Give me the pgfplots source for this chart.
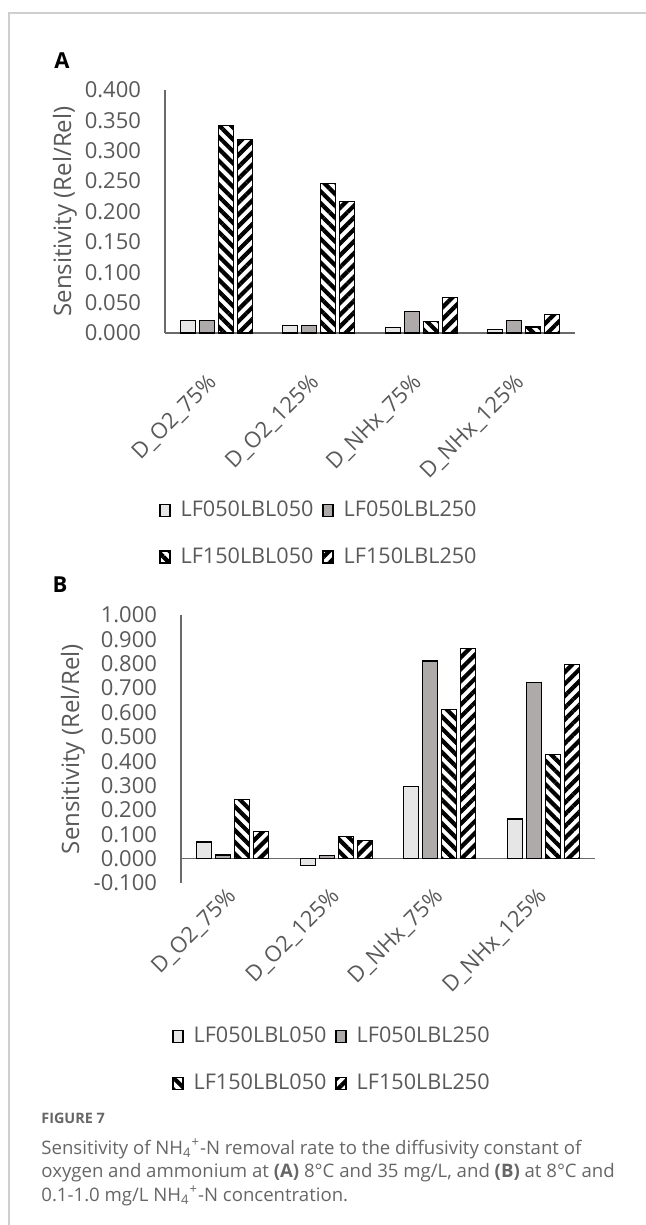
\documentclass[border=0pt]{standalone}
\usepackage{fontspec}
\setmainfont{Open Sans}
\usepackage{graphicx}
\usepackage{pgfplots}
\pgfplotsset{compat=1.18}
\usetikzlibrary{patterns.meta}
\definecolor{txt}{HTML}{595959}
\definecolor{axl}{HTML}{6A6A6A}
\definecolor{cA}{RGB}{231,230,230}
\definecolor{cB}{RGB}{174,170,170}
\definecolor{framec}{HTML}{CFCFCF}
\definecolor{capc}{HTML}{666666}
\newcommand{\rl}[1]{\rotatebox{45}{#1}}
\pgfplotsset{
  sA/.style={fill=cA, draw=black, line width=0.6pt},
  sB/.style={fill=cB, draw=black, line width=0.6pt},
  sC/.style={draw=black, line width=0.6pt, pattern={Lines[angle=-45,distance=4.2pt,line width=2.1pt]}, pattern color=black},
  sD/.style={draw=black, line width=0.6pt, pattern={Lines[angle=45,distance=4.2pt,line width=2.1pt]}, pattern color=black},
  common/.style={
    scale only axis,
    xmin=-0.5, xmax=3.5,
    xtick={0,1,2,3},
    xticklabels={\rl{D\_O2\_75\%}, \rl{D\_O2\_125\%}, \rl{D\_NHx\_75\%}, \rl{D\_NHx\_125\%}},
    ybar=2.1pt, bar width=7.4pt,
    every axis plot post/.append style={/pgfplots/legend image code/.code={\draw[##1] (0pt,-3pt) rectangle (5pt,3pt);}},
    axis y line*=left, axis x line*=bottom,
    axis line style={draw=axl, line width=0.7pt},
    major tick length=0pt,
    scaled y ticks=false,
    tick label style={font=\fontsize{11}{12}\selectfont, text=txt},
    /pgf/number format/fixed, /pgf/number format/fixed zerofill,
    /pgf/number format/precision=3, /pgf/number format/assume math mode=true,
    yticklabel style={xshift=-8.5pt},
    ylabel={Sensitivity (Rel/Rel)},
    ylabel style={font=\fontsize{12}{14}\selectfont, text=txt, anchor=center},
    legend columns=2,
    legend style={draw=none, fill=none, inner sep=0pt, row sep=14pt,
      font=\fontsize{10.8}{12}\selectfont, text=txt, anchor=north west,
      nodes={inner sep=0pt},
      /tikz/every odd column/.append style={column sep=5pt},
      /tikz/every even column/.append style={column sep=4.5pt}},
    legend cell align=left,
  },
}
\begin{document}
\begin{tikzpicture}
\path[use as bounding box] (0pt,0pt) rectangle (323pt,-612.5pt);
\draw[framec, line width=0.8pt] (4.5pt,-612.5pt) -- (4.5pt,-6.5pt) -- (323pt,-6.5pt);
\node[font=\bfseries\fontsize{11}{12}\selectfont] at (31pt,-30.5pt) {A};
\node[font=\bfseries\fontsize{11}{12}\selectfont] at (30pt,-292.5pt) {B};

% Panel A
\begin{axis}[common,
  at={(82.5pt,-166.5pt)}, anchor=south west,
  width=205pt, height=121.5pt,
  ymin=0, ymax=0.4, ytick={0,0.05,0.1,0.15,0.2,0.25,0.3,0.35,0.4},
  ylabel style={at={(axis description cs:-0.244,0.5)}},
  xticklabel style={inner sep=0pt, anchor=north east, xshift=2pt, yshift=-19.5pt},
  legend style={at={(axis description cs:-0.0146,-0.69)}},
]
\addplot[sA] coordinates {(0,0.021) (1,0.012) (2,0.009) (3,0.0055)};
\addplot[sB] coordinates {(0,0.021) (1,0.012) (2,0.035) (3,0.021)};
\addplot[sC] coordinates {(0,0.342) (1,0.246) (2,0.019) (3,0.010)};
\addplot[sD] coordinates {(0,0.318) (1,0.216) (2,0.058) (3,0.031)};
\legend{LF050LBL050, LF050LBL250, LF150LBL050, LF150LBL250}
\end{axis}

% Panel B
\begin{axis}[common,
  at={(90.5pt,-441.5pt)}, anchor=south west,
  width=207pt, height=134pt,
  ymin=-0.1, ymax=1.0, ytick={-0.1,0,0.1,0.2,0.3,0.4,0.5,0.6,0.7,0.8,0.9,1.0},
  x axis line style={draw=none},
  ylabel style={at={(axis description cs:-0.261,0.5)}},
  xticklabel style={inner sep=0pt, anchor=north east, xshift=3.5pt, yshift=-1.5pt},
  legend style={at={(axis description cs:-0.0217,-0.537)}},
]
\draw[axl, line width=0.7pt] (axis cs:-0.5,0) -- (axis cs:3.5,0);
\addplot[sA] coordinates {(0,0.068) (1,-0.028) (2,0.296) (3,0.163)};
\addplot[sB] coordinates {(0,0.015) (1,0.012) (2,0.811) (3,0.723)};
\addplot[sC] coordinates {(0,0.243) (1,0.090) (2,0.613) (3,0.429)};
\addplot[sD] coordinates {(0,0.111) (1,0.075) (2,0.861) (3,0.796)};
\legend{LF050LBL050, LF050LBL250, LF150LBL050, LF150LBL250}
\end{axis}

% Caption
\node[anchor=base west, inner sep=0pt, text=capc, font=\bfseries\fontsize{7.2}{9}\selectfont] at (20.5pt,-561.5pt) {FIGURE 7};
\node[anchor=base west, inner sep=0pt, text=capc, font=\fontsize{9.3}{11}\selectfont] at (20.5pt,-577pt)
 {Sensitivity of NH\textsubscript{4}\textsuperscript{+}-N removal rate to the diffusivity constant of};
\node[anchor=base west, inner sep=0pt, text=capc, font=\fontsize{9.3}{11}\selectfont] at (20.5pt,-588.75pt)
 {oxygen and ammonium at \textbf{(A)} 8°C and 35 mg/L, and \textbf{(B)} at 8°C and};
\node[anchor=base west, inner sep=0pt, text=capc, font=\fontsize{9.3}{11}\selectfont] at (20.5pt,-600.5pt)
 {0.1-1.0 mg/L NH\textsubscript{4}\textsuperscript{+}-N concentration.};
\end{tikzpicture}
\end{document}
